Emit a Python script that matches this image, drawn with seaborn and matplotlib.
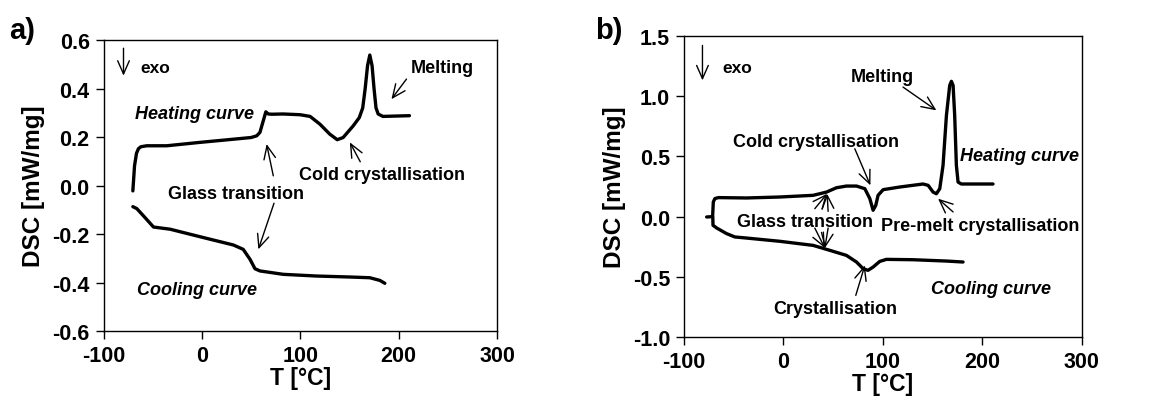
import matplotlib
matplotlib.use("Agg")
import matplotlib.pyplot as plt
import seaborn as sns

# ---- panel a: DSC scans ----
a_heat_T = [-70.2, -69.5, -68.5, -66.5, -64.5, -62.0, -56.0, -35.7, -1.9, 32.0, 50.0, 55.7,
            59.0, 62.4, 65.0, 67.5, 71.0, 82.7, 99.7, 110.0, 120.0, 130.0, 137.6,
            143.6, 153.8, 160.0, 163.5, 166.0, 168.4, 170.7, 173.0, 175.0, 177.0, 179.2,
            184.0, 211.0]
a_heat_dsc = [-0.022, 0.02, 0.081, 0.133, 0.152, 0.160, 0.164, 0.164, 0.178, 0.191, 0.198,
              0.205, 0.219, 0.267, 0.304, 0.295, 0.294, 0.295, 0.292, 0.285, 0.253, 0.212,
              0.189, 0.198, 0.246, 0.280, 0.320, 0.400, 0.494, 0.538, 0.494, 0.400, 0.320,
              0.295, 0.285, 0.288]

a_cool_T = [-70.2, -66.2, -59.4, -49.2, -32.3, -1.9, 32.0, 42.0, 48.9, 54.0, 59.0,
            82.7, 116.6, 150.4, 170.7, 180.9, 186.0]
a_cool_dsc = [-0.087, -0.095, -0.125, -0.171, -0.180, -0.211, -0.245, -0.263, -0.304,
              -0.343, -0.352, -0.366, -0.373, -0.377, -0.380, -0.391, -0.403]

# ---- panel b: DSC scans ----
b_heat_T = [-77.2, -71.2, -70.5, -68.9, -65.5, -37.0, -3.6, 29.9, 43.3, 53.3, 63.3, 73.4,
            81.8, 86.8, 90.1, 92.8, 95.1, 100.2, 116.9, 140.3, 145.4, 150.4, 153.7, 157.1,
            160.4, 163.8, 167.1, 168.8, 170.5, 172.1, 173.8, 175.5, 178.8, 210.6]
b_heat_dsc = [-0.003, 0.0, 0.122, 0.150, 0.158, 0.155, 0.163, 0.177, 0.204, 0.240, 0.254,
              0.254, 0.232, 0.150, 0.053, 0.094, 0.177, 0.224, 0.246, 0.271, 0.260, 0.204,
              0.190, 0.232, 0.426, 0.841, 1.090, 1.124, 1.090, 0.841, 0.426, 0.287, 0.271, 0.271]

b_cool_T = [-71.0, -70.8, -67.2, -57.2, -48.8, -37.0, -3.6, 29.9, 46.6, 63.3, 73.4, 80.0,
            85.0, 90.1, 96.8, 103.5, 130.3, 163.8, 180.5]
b_cool_dsc = [-0.005, -0.072, -0.094, -0.141, -0.169, -0.178, -0.205, -0.239, -0.280,
              -0.322, -0.377, -0.432, -0.446, -0.419, -0.372, -0.355, -0.358, -0.369, -0.377]

x_ticks = [-100, 0, 100, 200, 300]
a_y_ticks = [-0.6, -0.4, -0.2, 0.0, 0.2, 0.4, 0.6]
b_y_ticks = [-1.0, -0.5, 0.0, 0.5, 1.0, 1.5]

sns.set_style("ticks")
plt.rcParams["font.family"] = ["Liberation Sans", "DejaVu Sans"]
plt.rcParams["font.weight"] = "bold"
plt.rcParams["axes.unicode_minus"] = False
for key in ("text.color", "axes.labelcolor", "xtick.color", "ytick.color", "axes.edgecolor"):
    plt.rcParams[key] = "black"

fig = plt.figure(figsize=(11.62, 4.10), dpi=100)
ax_a = fig.add_axes([0.0891, 0.190, 0.3386, 0.710])
ax_b = fig.add_axes([0.5886, 0.1756, 0.3425, 0.734])

LW = 2.4
ARROW = dict(arrowstyle="->,head_length=0.95,head_width=0.42", color="black", lw=1.0,
             shrinkA=0, shrinkB=0)
TXT = dict(fontsize=13, fontweight="bold", va="center", ha="left", color="black")


def style_axis(ax, yticks, fmt):
    ax.set_xlim(-100, 300)
    ax.set_ylim(yticks[0], yticks[-1])
    ax.set_xticks(x_ticks)
    ax.set_xticklabels([str(v) for v in x_ticks])
    ax.set_yticks(yticks)
    ax.set_yticklabels([fmt.format(v) for v in yticks])
    ax.tick_params(direction="out", length=6, width=1, labelsize=15.5, colors="black", pad=4)
    for lab in ax.get_xticklabels() + ax.get_yticklabels():
        lab.set_fontweight("bold")
    for s in ax.spines.values():
        s.set_linewidth(1.0)
        s.set_color("black")
    ax.set_xlabel("T [°C]", fontsize=16.5, fontweight="bold", labelpad=0)
    ax.set_ylabel("DSC [mW/mg]", fontsize=17.5, fontweight="bold", labelpad=5)


def arrow(ax, tail, head):
    ax.annotate("", xy=head, xytext=tail, arrowprops=ARROW)


# panel a
sns.lineplot(x=a_heat_T, y=a_heat_dsc, ax=ax_a, color="black", lw=LW, sort=False, estimator=None)
sns.lineplot(x=a_cool_T, y=a_cool_dsc, ax=ax_a, color="black", lw=LW, sort=False, estimator=None)
style_axis(ax_a, a_y_ticks, "{:.1f}")

arrow(ax_a, (-79.7, 0.566), (-79.7, 0.453))
ax_a.text(-62.8, 0.487, "exo", **{**TXT, "fontsize": 12.5})
ax_a.text(-68.5, 0.295, "Heating curve", style="italic", **TXT)
ax_a.text(212, 0.487, "Melting", **TXT)
arrow(ax_a, (208, 0.439), (192.7, 0.356))
ax_a.text(99, 0.044, "Cold crystallisation", **TXT)
arrow(ax_a, (161, 0.098), (150.4, 0.178))
ax_a.text(-34, -0.032, "Glass transition", **TXT)
arrow(ax_a, (72.6, 0.04), (65.8, 0.171))
arrow(ax_a, (73.3, -0.073), (57.4, -0.263))
ax_a.text(-66, -0.428, "Cooling curve", style="italic", **TXT)
fig.text(0.008, 0.925, "a)", fontsize=21, fontweight="bold", va="center")

# panel b
sns.lineplot(x=b_heat_T, y=b_heat_dsc, ax=ax_b, color="black", lw=LW, sort=False, estimator=None)
sns.lineplot(x=b_cool_T, y=b_cool_dsc, ax=ax_b, color="black", lw=LW, sort=False, estimator=None)
style_axis(ax_b, b_y_ticks, "{:.1f}")

arrow(ax_b, (-81.4, 1.422), (-81.4, 1.132))
ax_b.text(-61.2, 1.243, "exo", **{**TXT, "fontsize": 12.5})
ax_b.text(67.4, 1.168, "Melting", **TXT)
arrow(ax_b, (120.2, 1.076), (153.7, 0.883))
ax_b.text(-50.5, 0.625, "Cold crystallisation", **TXT)
arrow(ax_b, (71.7, 0.564), (87.4, 0.26))
ax_b.text(177.2, 0.509, "Heating curve", style="italic", **TXT)
ax_b.text(-47.1, -0.039, "Glass transition", **TXT)
arrow(ax_b, (31.5, 0.066), (43.9, 0.19))
arrow(ax_b, (44.9, 0.044), (43.9, 0.19))
arrow(ax_b, (31.5, -0.095), (41.6, -0.261))
arrow(ax_b, (44.9, -0.095), (41.6, -0.261))
ax_b.text(98.5, -0.072, "Pre-melt crystallisation", **TXT)
arrow(ax_b, (170.5, 0.039), (155.4, 0.149))
ax_b.text(-10.3, -0.765, "Crystallisation", **TXT)
arrow(ax_b, (72.7, -0.654), (81.8, -0.405))
ax_b.text(148.7, -0.593, "Cooling curve", style="italic", **TXT)
fig.text(0.512, 0.925, "b)", fontsize=21, fontweight="bold", va="center")

fig.savefig("out.png", dpi=100)
